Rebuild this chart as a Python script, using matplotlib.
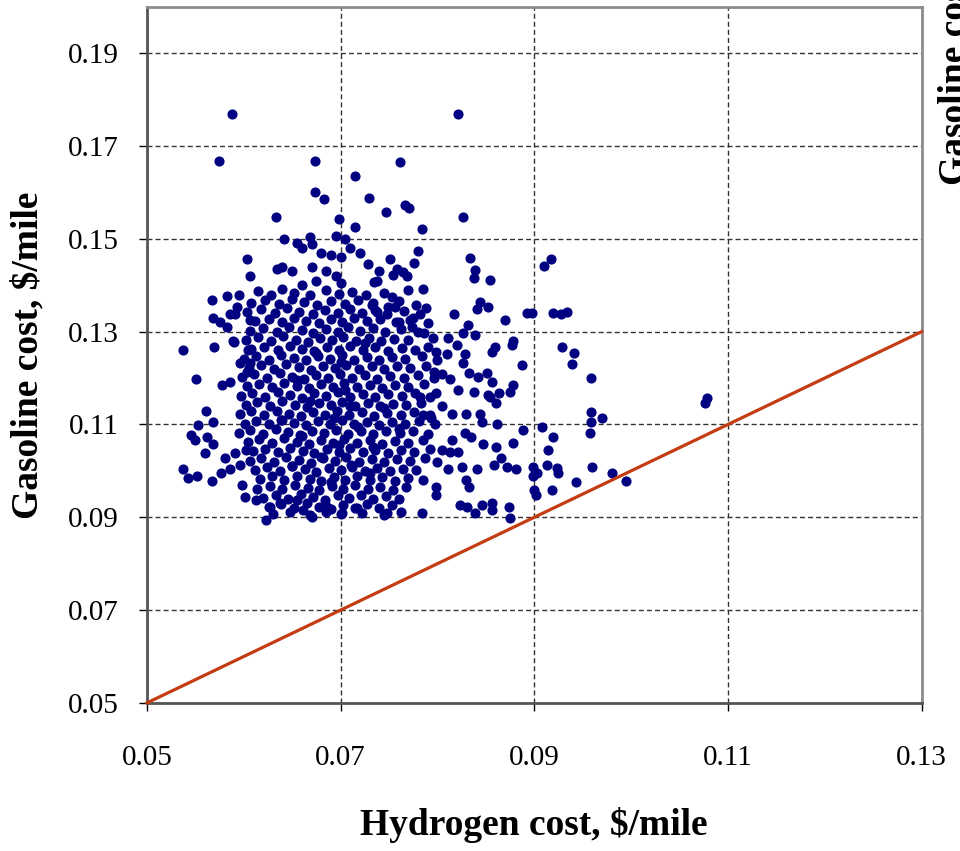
import matplotlib.pyplot as plt

# sparse points around the cloud (hydrogen $/mile, gasoline $/mile)
outer_pts = [
    (0.0588, 0.1768), (0.0574, 0.1667), (0.0674, 0.1667), (0.0821, 0.1768),
    (0.0761, 0.1665), (0.0715, 0.1635), (0.0674, 0.1602), (0.0683, 0.1585),
    (0.0729, 0.1587), (0.0747, 0.1557), (0.0767, 0.1572), (0.0771, 0.1566),
    (0.0633, 0.1546), (0.0698, 0.1542), (0.0784, 0.1522), (0.0826, 0.1548),
    (0.0715, 0.1525), (0.0642, 0.1499), (0.0668, 0.1505), (0.0695, 0.1507),
    (0.0671, 0.1488), (0.0655, 0.1490), (0.0680, 0.1470), (0.0690, 0.1465),
    (0.0700, 0.1460), (0.0710, 0.1480), (0.0720, 0.1470), (0.0705, 0.1500),
    (0.0660, 0.1480), (0.0640, 0.1440), (0.0650, 0.1430), (0.0670, 0.1440),
    (0.0685, 0.1430), (0.0695, 0.1420), (0.0728, 0.1445), (0.0740, 0.1430),
    (0.0738, 0.1410), (0.0660, 0.1400), (0.0675, 0.1410), (0.0700, 0.1405),
    (0.0603, 0.1456), (0.0634, 0.1434), (0.0606, 0.1419), (0.0567, 0.1369),
    (0.0583, 0.1376), (0.0595, 0.1380), (0.0537, 0.1261), (0.0569, 0.1266),
    (0.0590, 0.1277), (0.0551, 0.1199), (0.0568, 0.1330), (0.0575, 0.1320),
    (0.0583, 0.1309), (0.0586, 0.1337), (0.0593, 0.1354), (0.0591, 0.1337),
    (0.0606, 0.1326), (0.0604, 0.1261), (0.0606, 0.1233), (0.0596, 0.1233),
    (0.0603, 0.1214), (0.0586, 0.1192), (0.0578, 0.1186), (0.0589, 0.1279),
    (0.0561, 0.1130), (0.0568, 0.1106), (0.0553, 0.1098), (0.0546, 0.1078),
    (0.0550, 0.1067), (0.0562, 0.1074), (0.0568, 0.1057), (0.0560, 0.1039),
    (0.0537, 0.1005), (0.0542, 0.0985), (0.0552, 0.0988), (0.0567, 0.0979),
    (0.0577, 0.0996), (0.0586, 0.1003), (0.0581, 0.1028), (0.0591, 0.1039),
    (0.0602, 0.1046), (0.0596, 0.1013), (0.0598, 0.0970), (0.0601, 0.0944),
    (0.0613, 0.0938), (0.0623, 0.0895), (0.0627, 0.0923), (0.0637, 0.0931),
    (0.0655, 0.0938), (0.0671, 0.0901), (0.0661, 0.0916), (0.0686, 0.0923),
    (0.0702, 0.0910), (0.0717, 0.0921), (0.0748, 0.0910), (0.0784, 0.0910),
    (0.0780, 0.1473), (0.0751, 0.1456), (0.0776, 0.1447), (0.0758, 0.1434),
    (0.0754, 0.1423), (0.0764, 0.1428), (0.0769, 0.1419), (0.0735, 0.1408),
    (0.0834, 0.1458), (0.0839, 0.1432), (0.0838, 0.1415), (0.0854, 0.1412),
    (0.0917, 0.1456), (0.0910, 0.1441), (0.0785, 0.1391), (0.0753, 0.1374),
    (0.0749, 0.1354), (0.0756, 0.1354), (0.0788, 0.1352), (0.0817, 0.1339),
    (0.0844, 0.1363), (0.0841, 0.1348), (0.0852, 0.1354), (0.0870, 0.1326),
    (0.0893, 0.1341), (0.0898, 0.1341), (0.0919, 0.1341), (0.0928, 0.1337),
    (0.0934, 0.1343), (0.0732, 0.1358), (0.0738, 0.1343), (0.0775, 0.1330),
    (0.0760, 0.1320), (0.0774, 0.1309), (0.0832, 0.1315), (0.0826, 0.1298),
    (0.0839, 0.1292), (0.0786, 0.1298), (0.0811, 0.1287), (0.0878, 0.1279),
    (0.0877, 0.1272), (0.0859, 0.1268), (0.0856, 0.1257), (0.0820, 0.1272),
    (0.0828, 0.1251), (0.0810, 0.1251), (0.0799, 0.1257), (0.0790, 0.1266),
    (0.0826, 0.1233), (0.0887, 0.1229), (0.0929, 0.1266), (0.0833, 0.1212),
    (0.0851, 0.1212), (0.0842, 0.1203), (0.0856, 0.1192), (0.0878, 0.1186),
    (0.0813, 0.1197), (0.0805, 0.1208), (0.0797, 0.1214),
    (0.0941, 0.1255), (0.0939, 0.1231), (0.0959, 0.1201),
    (0.0799, 0.1167), (0.0838, 0.1169), (0.0854, 0.1160), (0.0864, 0.1167),
    (0.0875, 0.1171), (0.0861, 0.1147), (0.0782, 0.1160), (0.0821, 0.1175),
    (0.0852, 0.1164), (0.0785, 0.1121), (0.0793, 0.1115), (0.0815, 0.1123),
    (0.0830, 0.1123), (0.0844, 0.1123), (0.0846, 0.1106), (0.0862, 0.1100),
    (0.0888, 0.1089), (0.0908, 0.1095), (0.0919, 0.1074), (0.0878, 0.1061),
    (0.0861, 0.1052), (0.0847, 0.1057), (0.0828, 0.1082), (0.0835, 0.1072),
    (0.0815, 0.1067), (0.0821, 0.1041), (0.0813, 0.1041), (0.0805, 0.1046),
    (0.0800, 0.1020), (0.0811, 0.1003), (0.0825, 0.1009), (0.0841, 0.1003),
    (0.0858, 0.1013), (0.0866, 0.1028), (0.0872, 0.1009), (0.0881, 0.1003),
    (0.0899, 0.1009), (0.0899, 0.0988), (0.0903, 0.0996), (0.0913, 0.1013),
    (0.0924, 0.1007), (0.0925, 0.0996), (0.0914, 0.1046), (0.0918, 0.0959),
    (0.0900, 0.0959), (0.0902, 0.0949), (0.0830, 0.0981), (0.0833, 0.0966),
    (0.0799, 0.0966), (0.0799, 0.0949), (0.0823, 0.0927), (0.0831, 0.0923),
    (0.0839, 0.0910), (0.0846, 0.0927), (0.0856, 0.0931), (0.0856, 0.0916),
    (0.0874, 0.0923), (0.0875, 0.0899),
    (0.1078, 0.1158), (0.1076, 0.1147), (0.0959, 0.1126), (0.0959, 0.1106),
    (0.0970, 0.1113), (0.0958, 0.1082), (0.0960, 0.1009), (0.0980, 0.0996),
    (0.0995, 0.0979), (0.0943, 0.0975),
]

# dense middle of the cloud
core_pts = [
    (0.0615, 0.1388), (0.0628, 0.1380), (0.0640, 0.1392), (0.0652, 0.1383), (0.0668, 0.1379), (0.0685, 0.1390),
    (0.0698, 0.1381), (0.0712, 0.1386), (0.0726, 0.1378), (0.0745, 0.1384), (0.0770, 0.1390),
    (0.0608, 0.1362), (0.0622, 0.1368), (0.0636, 0.1360), (0.0650, 0.1370), (0.0662, 0.1363), (0.0676, 0.1358),
    (0.0690, 0.1366), (0.0705, 0.1360), (0.0718, 0.1369), (0.0733, 0.1362), (0.0760, 0.1365), (0.0778, 0.1358),
    (0.0603, 0.1342), (0.0618, 0.1348), (0.0632, 0.1340), (0.0645, 0.1350), (0.0657, 0.1343), (0.0672, 0.1338),
    (0.0684, 0.1347), (0.0697, 0.1341), (0.0710, 0.1349), (0.0722, 0.1340), (0.0736, 0.1346), (0.0748, 0.1339),
    (0.0765, 0.1344), (0.0782, 0.1338),
    (0.0612, 0.1322), (0.0626, 0.1328), (0.0640, 0.1320), (0.0652, 0.1330), (0.0664, 0.1324), (0.0678, 0.1319),
    (0.0690, 0.1327), (0.0702, 0.1321), (0.0714, 0.1330), (0.0727, 0.1322), (0.0741, 0.1328), (0.0757, 0.1320),
    (0.0772, 0.1326), (0.0790, 0.1318),
    (0.0607, 0.1302), (0.0620, 0.1308), (0.0634, 0.1300), (0.0647, 0.1310), (0.0660, 0.1303), (0.0672, 0.1298),
    (0.0685, 0.1306), (0.0697, 0.1300), (0.0708, 0.1309), (0.0720, 0.1301), (0.0733, 0.1307), (0.0746, 0.1299),
    (0.0762, 0.1305), (0.0780, 0.1300),
    (0.0602, 0.1282), (0.0615, 0.1288), (0.0628, 0.1280), (0.0641, 0.1290), (0.0654, 0.1283), (0.0666, 0.1278),
    (0.0679, 0.1287), (0.0691, 0.1281), (0.0703, 0.1289), (0.0716, 0.1280), (0.0729, 0.1286), (0.0742, 0.1279),
    (0.0755, 0.1285), (0.0770, 0.1281), (0.0795, 0.1287),
    (0.0608, 0.1262), (0.0621, 0.1268), (0.0635, 0.1260), (0.0648, 0.1270), (0.0660, 0.1263), (0.0673, 0.1258),
    (0.0686, 0.1267), (0.0698, 0.1261), (0.0710, 0.1269), (0.0723, 0.1260), (0.0736, 0.1266), (0.0749, 0.1259),
    (0.0763, 0.1265), (0.0777, 0.1261),
    (0.0600, 0.1242), (0.0613, 0.1248), (0.0626, 0.1240), (0.0639, 0.1250), (0.0652, 0.1243), (0.0664, 0.1238),
    (0.0677, 0.1247), (0.0689, 0.1241), (0.0701, 0.1249), (0.0714, 0.1240), (0.0727, 0.1246), (0.0740, 0.1239),
    (0.0753, 0.1245), (0.0767, 0.1241), (0.0784, 0.1247), (0.0800, 0.1240),
    (0.0605, 0.1222), (0.0618, 0.1228), (0.0631, 0.1220), (0.0644, 0.1230), (0.0657, 0.1223), (0.0669, 0.1218),
    (0.0682, 0.1227), (0.0694, 0.1221), (0.0706, 0.1229), (0.0719, 0.1220), (0.0732, 0.1226), (0.0745, 0.1219),
    (0.0758, 0.1225), (0.0772, 0.1221), (0.0788, 0.1227),
    (0.0598, 0.1202), (0.0611, 0.1208), (0.0624, 0.1200), (0.0637, 0.1210), (0.0650, 0.1203), (0.0662, 0.1198),
    (0.0675, 0.1207), (0.0687, 0.1201), (0.0699, 0.1209), (0.0712, 0.1200), (0.0725, 0.1206), (0.0738, 0.1199),
    (0.0751, 0.1205), (0.0765, 0.1201), (0.0780, 0.1207), (0.0796, 0.1200),
    (0.0603, 0.1182), (0.0616, 0.1188), (0.0629, 0.1180), (0.0642, 0.1190), (0.0655, 0.1183), (0.0667, 0.1178),
    (0.0680, 0.1187), (0.0692, 0.1181), (0.0704, 0.1189), (0.0717, 0.1180), (0.0730, 0.1186), (0.0743, 0.1179),
    (0.0756, 0.1185), (0.0770, 0.1181), (0.0786, 0.1187),
    (0.0597, 0.1162), (0.0609, 0.1168), (0.0622, 0.1160), (0.0635, 0.1170), (0.0648, 0.1163), (0.0660, 0.1158),
    (0.0673, 0.1167), (0.0685, 0.1161), (0.0697, 0.1169), (0.0710, 0.1160), (0.0723, 0.1166), (0.0736, 0.1159),
    (0.0749, 0.1165), (0.0763, 0.1161), (0.0777, 0.1167), (0.0792, 0.1160),
    (0.0602, 0.1142), (0.0614, 0.1148), (0.0627, 0.1140), (0.0640, 0.1150), (0.0653, 0.1143), (0.0665, 0.1138),
    (0.0678, 0.1147), (0.0690, 0.1141), (0.0702, 0.1149), (0.0715, 0.1140), (0.0728, 0.1146), (0.0741, 0.1139),
    (0.0754, 0.1145), (0.0768, 0.1141), (0.0783, 0.1147), (0.0805, 0.1140),
    (0.0596, 0.1122), (0.0608, 0.1128), (0.0621, 0.1120), (0.0634, 0.1130), (0.0647, 0.1123), (0.0659, 0.1118),
    (0.0672, 0.1127), (0.0684, 0.1121), (0.0696, 0.1129), (0.0709, 0.1120), (0.0722, 0.1126), (0.0735, 0.1119),
    (0.0748, 0.1125), (0.0762, 0.1121), (0.0776, 0.1127), (0.0792, 0.1120),
    (0.0601, 0.1102), (0.0613, 0.1108), (0.0626, 0.1100), (0.0639, 0.1110), (0.0652, 0.1103), (0.0664, 0.1098),
    (0.0677, 0.1107), (0.0689, 0.1101), (0.0701, 0.1109), (0.0714, 0.1100), (0.0727, 0.1106), (0.0740, 0.1099),
    (0.0753, 0.1105), (0.0767, 0.1101), (0.0781, 0.1107), (0.0798, 0.1100),
    (0.0595, 0.1082), (0.0607, 0.1088), (0.0620, 0.1080), (0.0633, 0.1090), (0.0646, 0.1083), (0.0658, 0.1078),
    (0.0671, 0.1087), (0.0683, 0.1081), (0.0695, 0.1089), (0.0708, 0.1080), (0.0721, 0.1086), (0.0734, 0.1079),
    (0.0747, 0.1085), (0.0761, 0.1081), (0.0775, 0.1087), (0.0790, 0.1080),
    (0.0604, 0.1062), (0.0616, 0.1068), (0.0629, 0.1060), (0.0642, 0.1070), (0.0655, 0.1063), (0.0667, 0.1058),
    (0.0680, 0.1067), (0.0692, 0.1061), (0.0704, 0.1069), (0.0717, 0.1060), (0.0730, 0.1066), (0.0743, 0.1059),
    (0.0756, 0.1065), (0.0770, 0.1061), (0.0785, 0.1067),
    (0.0610, 0.1042), (0.0622, 0.1048), (0.0635, 0.1040), (0.0648, 0.1050), (0.0661, 0.1043), (0.0673, 0.1038),
    (0.0686, 0.1047), (0.0698, 0.1041), (0.0710, 0.1049), (0.0723, 0.1040), (0.0736, 0.1046), (0.0749, 0.1039),
    (0.0762, 0.1045), (0.0776, 0.1041), (0.0792, 0.1047),
    (0.0606, 0.1022), (0.0618, 0.1028), (0.0631, 0.1020), (0.0644, 0.1030), (0.0657, 0.1023), (0.0669, 0.1018),
    (0.0682, 0.1027), (0.0694, 0.1021), (0.0706, 0.1029), (0.0719, 0.1020), (0.0732, 0.1026), (0.0745, 0.1019),
    (0.0758, 0.1025), (0.0772, 0.1021), (0.0787, 0.1027),
    (0.0612, 0.1002), (0.0624, 0.1008), (0.0637, 0.1000), (0.0650, 0.1010), (0.0663, 0.1003), (0.0675, 0.0998),
    (0.0688, 0.1007), (0.0700, 0.1001), (0.0712, 0.1009), (0.0725, 0.1000), (0.0738, 0.1006), (0.0751, 0.0999),
    (0.0764, 0.1005), (0.0778, 0.1001),
    (0.0617, 0.0982), (0.0629, 0.0988), (0.0642, 0.0980), (0.0655, 0.0990), (0.0668, 0.0983), (0.0680, 0.0978),
    (0.0693, 0.0987), (0.0705, 0.0981), (0.0717, 0.0989), (0.0730, 0.0980), (0.0743, 0.0986), (0.0756, 0.0979),
    (0.0770, 0.0985), (0.0785, 0.0981),
    (0.0614, 0.0962), (0.0627, 0.0968), (0.0640, 0.0960), (0.0653, 0.0970), (0.0666, 0.0963), (0.0678, 0.0958),
    (0.0691, 0.0967), (0.0703, 0.0961), (0.0715, 0.0969), (0.0728, 0.0960), (0.0741, 0.0966), (0.0754, 0.0959),
    (0.0768, 0.0965),
    (0.0620, 0.0942), (0.0633, 0.0948), (0.0646, 0.0940), (0.0659, 0.0950), (0.0672, 0.0943), (0.0684, 0.0938),
    (0.0697, 0.0947), (0.0709, 0.0941), (0.0721, 0.0949), (0.0734, 0.0940), (0.0747, 0.0946), (0.0760, 0.0939),
    (0.0626, 0.0922), (0.0639, 0.0928), (0.0652, 0.0920), (0.0665, 0.0930), (0.0678, 0.0923), (0.0690, 0.0918),
    (0.0703, 0.0927), (0.0715, 0.0921), (0.0727, 0.0929), (0.0740, 0.0920), (0.0753, 0.0926),
    (0.0630, 0.0908), (0.0648, 0.0912), (0.0668, 0.0906), (0.0685, 0.0911), (0.0700, 0.0907), (0.0722, 0.0910),
    (0.0745, 0.0906), (0.0762, 0.0911),
    # extra fill where the cloud is solid
    (0.0655, 0.1195), (0.0668, 0.1150), (0.0693, 0.1115), (0.0705, 0.1175), (0.0718, 0.1095),
    (0.0698, 0.1055), (0.0680, 0.1030), (0.0660, 0.1075), (0.0711, 0.1012), (0.0733, 0.1052),
    (0.0745, 0.1135), (0.0700, 0.1235), (0.0675, 0.1255), (0.0725, 0.1275), (0.0640, 0.1110),
    (0.0650, 0.1010), (0.0690, 0.0975), (0.0730, 0.0995), (0.0760, 0.1090), (0.0710, 0.1140),
]

# break-even line: hydrogen cost = gasoline cost
parity_x = [0.05, 0.13]
parity_y = [0.05, 0.13]

x_ticks = [0.05, 0.07, 0.09, 0.11, 0.13]
y_ticks = [0.05, 0.07, 0.09, 0.11, 0.13, 0.15, 0.17, 0.19]

hydrogen = [p[0] for p in outer_pts + core_pts]
gasoline = [p[1] for p in outer_pts + core_pts]

plt.rcParams['font.family'] = ['Liberation Serif', 'DejaVu Serif']

fig = plt.figure(figsize=(9.6, 8.51), dpi=100)
ax = fig.add_axes([0.153, 0.174, 0.807, 0.818])

ax.plot(hydrogen, gasoline, 'o', color='#000080', ms=6.3, mec='#000080', zorder=3)
ax.plot(parity_x, parity_y, color='#c43c12', lw=2.3, zorder=4, clip_on=False)

ax.set_xlim(0.05, 0.13)
ax.set_ylim(0.05, 0.20)
ax.set_xticks(x_ticks)
ax.set_yticks(y_ticks)
ax.set_xticklabels(['%.2f' % v for v in x_ticks])
ax.set_yticklabels(['%.2f' % v for v in y_ticks])
ax.tick_params(direction='out', length=6, width=1, color='black', labelsize=21)
ax.tick_params(axis='x', pad=24)
ax.tick_params(axis='y', pad=14)

ax.grid(True, color='#333333', lw=1.0, linestyle=(0, (3.6, 2.2)))
ax.set_axisbelow(True)
for side in ['top', 'right']:
    ax.spines[side].set_color('#8c8c8c')
    ax.spines[side].set_linewidth(2)
for side in ['left', 'bottom']:
    ax.spines[side].set_color('#555555')
    ax.spines[side].set_linewidth(2)

ax.set_xlabel('Hydrogen cost, $/mile', fontsize=27, fontweight='bold', labelpad=26)
ax.set_ylabel('Gasoline cost, $/mile', fontsize=27, fontweight='bold', labelpad=16)

# edge of the neighbouring chart's axis title
fig.text(0.995, 0.783, 'Gasoline cost, $/mile', rotation=90, ha='center', va='bottom',
         fontsize=27, fontweight='bold')

fig.savefig('out.png', dpi=100)
